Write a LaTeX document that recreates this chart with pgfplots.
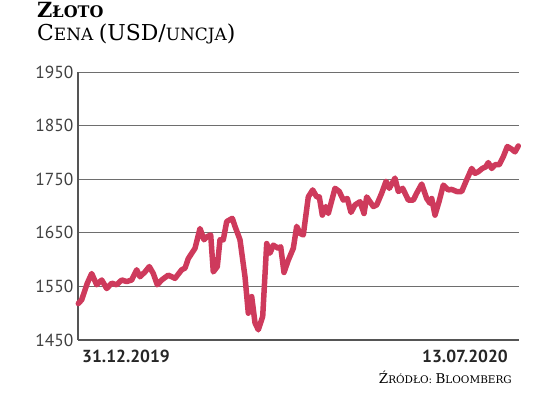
\documentclass[border=0pt]{standalone}
\usepackage{pgfplots}
\pgfplotsset{compat=1.18}
\usepackage{fontspec}
\setmainfont{PT Sans}
\newfontfamily\titlefont{DejaVu Serif}
\definecolor{goldline}{RGB}{206,58,92}
\definecolor{axisgray}{RGB}{85,85,85}
\definecolor{gridgray}{RGB}{110,110,110}
\begin{document}
\begin{tikzpicture}
\path[use as bounding box] (-78bp,-53bp) rectangle (458bp,340bp);
\begin{axis}[
  at={(0,0)}, anchor=south west,
  scale only axis, width=441bp, height=268bp,
  xmin=0, xmax=441, ymin=1450, ymax=1950,
  ytick={1450,1550,...,1950},
  xtick=\empty,
  axis x line*=bottom, axis y line*=left,
  axis line style={axisgray, line width=1.2bp},
  ymajorgrids, grid style={gridgray, line width=0.9bp},
  major tick length=0pt,
  yticklabel style={font=\fontsize{17.5}{17.5}\selectfont\color{black!75}, anchor=east, xshift=-1bp},
  /pgf/number format/assume math mode=true,
  /pgf/number format/1000 sep={},
  clip=false,
]
\addplot[goldline, line width=5.5bp, line join=round, line cap=round] coordinates {
(0.3,1518) (3.7,1525) (9.3,1556) (13.7,1574) (18.7,1553) (23.7,1562) (28.7,1546)
(33.7,1556) (38.7,1553) (43.7,1562) (48.7,1559) (53.7,1562) (58.7,1581) (62,1568)
(67,1577) (71.3,1587) (75.3,1574) (79.3,1553) (83.7,1562) (90.3,1571) (97,1565)
(103.7,1581) (107,1584) (110.3,1602) (117,1621) (122,1658) (126,1637) (129.3,1643)
(132.7,1646) (135.3,1577) (139.3,1587) (142,1637) (145.3,1637) (148.7,1671)
(154.3,1677) (157,1662) (162,1637) (167,1568) (170.3,1500) (173.7,1531) (177,1482)
(180.3,1469) (184.7,1494) (188.7,1630) (192,1612) (195.3,1627) (200.3,1621)
(202.7,1624) (206,1576) (210.3,1599) (215.3,1621) (218.7,1662) (222,1649)
(225.3,1646) (230.3,1717) (234.7,1730) (238.7,1717) (241.3,1717) (244.3,1683)
(247.7,1699) (250.3,1686) (257,1733) (261.3,1727) (265.3,1711) (269.3,1714)
(273,1688) (277,1702) (282,1708) (286,1686) (288.7,1717) (295.3,1699) (298.7,1702)
(303.7,1724) (308,1746) (311.3,1733) (317,1752) (320.3,1727) (324.7,1733)
(330.3,1711) (335.3,1711) (338.7,1724) (343.7,1741) (348.7,1714) (352,1705)
(353.7,1714) (357,1683) (361,1708) (365.3,1739) (370.3,1730) (373.7,1731)
(378.7,1727) (383.7,1727) (388,1746) (393.7,1770) (397,1761) (400.3,1764)
(404.3,1770) (407.7,1773) (410.3,1781) (413.7,1770) (417,1777) (421.3,1777)
(425.3,1792) (429.3,1811) (433.7,1806) (437,1801) (440.3,1812)
};
\end{axis}
\node[anchor=base west, inner sep=0pt, font=\fontsize{17.5}{17.5}\selectfont\bfseries\color{black!85}] at (4bp,-22bp) {31.12.2019};
\node[anchor=base east, inner sep=0pt, font=\fontsize{17.5}{17.5}\selectfont\bfseries\color{black!85}] at (430bp,-22bp) {13.07.2020};
\node[anchor=base west, inner sep=0pt, font=\titlefont\bfseries] at (-41bp,322bp) {\fontsize{21}{21}\selectfont Z\fontsize{16}{16}\selectfont ŁOTO};
\node[anchor=base west, inner sep=0pt, font=\titlefont] at (-41bp,299bp) {\fontsize{22}{22}\selectfont C\fontsize{17}{17}\selectfont ENA \fontsize{22}{22}\selectfont(USD/\fontsize{17}{17}\selectfont UNCJA\fontsize{22}{22}\selectfont)};
\node[anchor=base east, inner sep=0pt, font=\titlefont] at (434bp,-43bp) {\fontsize{13.5}{13.5}\selectfont Ź\fontsize{10.5}{10.5}\selectfont RÓDŁO: \fontsize{13.5}{13.5}\selectfont B\fontsize{10.5}{10.5}\selectfont LOOMBERG};
\end{tikzpicture}
\end{document}
